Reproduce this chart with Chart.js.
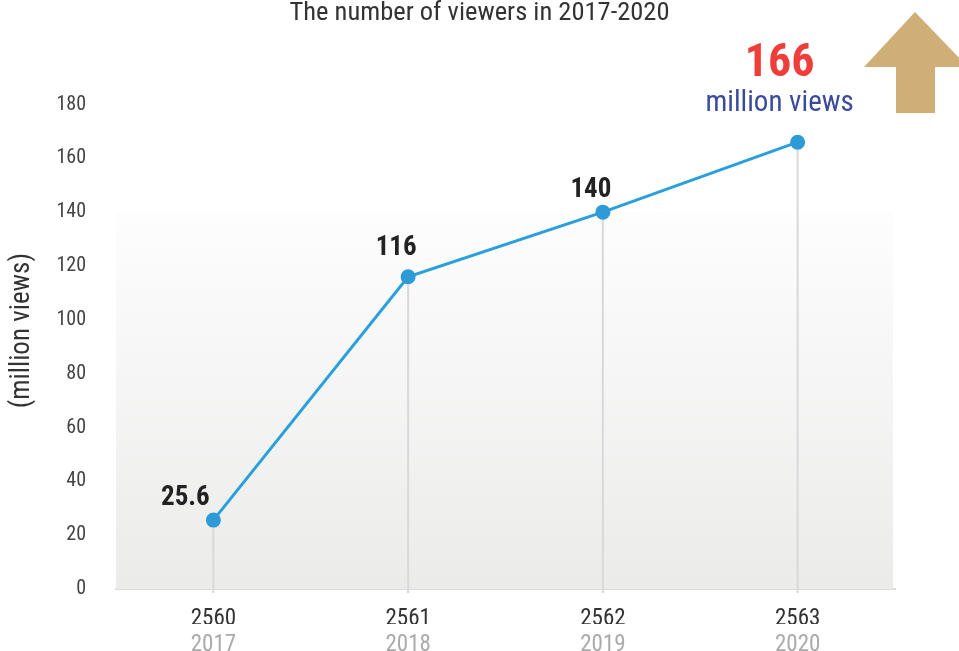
<!DOCTYPE html>
<html>
<head>
<meta charset="utf-8">
<script src="https://cdn.jsdelivr.net/npm/chart.js"></script>
<style>
html, body { margin: 0; padding: 0; background: #fff; }
#wrap { width: 959px; height: 651px; }
</style>
</head>
<body>
<div id="wrap"><canvas id="viewsChart"></canvas></div>
<script>
const FONT = "'Liberation Sans Narrow', 'Roboto Condensed', 'DejaVu Sans Condensed', Roboto, sans-serif";

const thaiYears = ['2560', '2561', '2562', '2563'];
const adYears = ['2017', '2018', '2019', '2020'];
const views = [25.6, 116, 140, 166];
const yTicks = [0, 20, 40, 60, 80, 100, 120, 140, 160, 180];
const yTitle = '(million views)';
const highlightValue = '166';
const highlightUnit = 'million views';

// background panel, drop lines under points
const backdrop = {
  id: 'backdrop',
  beforeDatasetsDraw(chart) {
    const { ctx, chartArea, scales } = chart;
    const top = scales.y.getPixelForValue(140);
    const g = ctx.createLinearGradient(0, top, 0, chartArea.bottom);
    g.addColorStop(0, '#fdfdfd');
    g.addColorStop(1, '#ebecea');
    ctx.save();
    ctx.fillStyle = g;
    ctx.fillRect(chartArea.left, top, chartArea.right - chartArea.left - 2, chartArea.bottom - top);
    ctx.strokeStyle = '#d9d9d9';
    ctx.lineWidth = 2;
    chart.getDatasetMeta(0).data.forEach(p => {
      ctx.beginPath();
      ctx.moveTo(p.x, p.y);
      ctx.lineTo(p.x, chartArea.bottom + 4);
      ctx.stroke();
    });
    ctx.restore();
  }
};

// value labels, highlight text, y title, arrow
const labelOffsets = [[-28, -22], [-12, -29], [-12, -22]];
const labelsPlugin = {
  id: 'labelsPlugin',
  afterDatasetsDraw(chart) {
    const { ctx, scales } = chart;
    const pts = chart.getDatasetMeta(0).data;
    ctx.save();
    ctx.fillStyle = '#222';
    ctx.font = "bold 27px " + FONT;
    ctx.textBaseline = 'middle';
    ctx.textAlign = 'center';
    labelOffsets.forEach((o, i) => {
      ctx.fillText(String(views[i]), pts[i].x + o[0], pts[i].y + o[1]);
    });
    const p = pts[3];
    ctx.fillStyle = '#ef3e3a';
    ctx.font = "bold 46px " + FONT;
    ctx.fillText(highlightValue, p.x - 18, p.y - 78);
    ctx.fillStyle = '#3b4b9c';
    ctx.font = "29px " + FONT;
    ctx.fillText(highlightUnit, p.x - 18, p.y - 38);

    // y axis title
    ctx.save();
    ctx.translate(22, scales.y.getPixelForValue(96));
    ctx.rotate(-Math.PI / 2);
    ctx.fillStyle = '#333';
    ctx.font = "27px " + FONT;
    ctx.fillText(yTitle, 0, 0);
    ctx.restore();

    // arrow
    ctx.fillStyle = '#cfae78';
    ctx.beginPath();
    ctx.moveTo(915, 12);
    ctx.lineTo(968, 67);
    ctx.lineTo(935, 67);
    ctx.lineTo(935, 113);
    ctx.lineTo(896, 113);
    ctx.lineTo(896, 67);
    ctx.lineTo(864, 67);
    ctx.closePath();
    ctx.fill();
    ctx.restore();
  }
};

new Chart(document.getElementById('viewsChart'), {
  type: 'line',
  data: {
    labels: thaiYears,
    datasets: [{
      data: views,
      borderColor: '#29a0dc',
      borderWidth: 3,
      backgroundColor: '#2e9bd6',
      pointBackgroundColor: '#2e9bd6',
      pointBorderWidth: 0,
      pointRadius: 7.5,
      tension: 0,
      fill: false
    }]
  },
  options: {
    responsive: true,
    maintainAspectRatio: false,
    animation: false,
    layout: { padding: 0 },
    plugins: {
      legend: { display: false },
      tooltip: { enabled: false },
      title: {
        display: true,
        text: 'The number of viewers in 2017-2020',
        color: '#333',
        font: { family: FONT, size: 26.5, weight: 'normal', lineHeight: 1.0 },
        padding: { top: 0, bottom: 78 }
      }
    },
    scales: {
      x: {
        type: 'category',
        offset: true,
        grid: { display: false, drawTicks: false },
        border: { display: true, color: '#dcdcdc', width: 2 },
        ticks: { color: '#333', font: { family: FONT, size: 23 }, padding: 16 },
        afterFit(s) { s.height = 35; }
      },
      x2: {
        type: 'category',
        position: 'bottom',
        labels: adYears,
        offset: true,
        grid: { display: false, drawTicks: false },
        border: { display: false },
        ticks: { color: '#aaa', font: { family: FONT, size: 23 }, padding: 7 },
        afterFit(s) { s.height = 27; }
      },
      y: {
        min: 0,
        max: 180,
        afterBuildTicks(s) { s.ticks = yTicks.map(v => ({ value: v })); },
        grid: { display: false, drawTicks: false },
        border: { display: false },
        ticks: { color: '#444', font: { family: FONT, size: 20 }, padding: 30 },
        afterFit(s) { s.width = 116; }
      },
      // empty right-hand margin so the title centres on the full width
      yRight: {
        position: 'right',
        min: 0,
        max: 180,
        grid: { display: false, drawTicks: false },
        border: { display: false },
        ticks: { display: false },
        afterFit(s) { s.width = 64; }
      }
    }
  },
  plugins: [backdrop, labelsPlugin]
});
</script>
</body>
</html>
